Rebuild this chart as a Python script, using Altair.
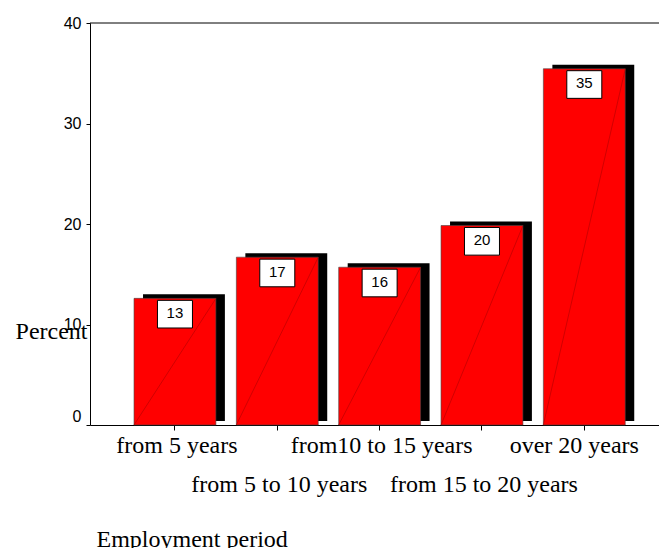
import json
import altair as alt
import pandas as pd

# ---- data ----
categories = ["from 5 years", "from 5 to 10 years", "from10 to 15 years",
              "from 15 to 20 years", "over 20 years"]
percent = [12.6, 16.7, 15.7, 19.85, 35.45]
labels = ["13", "17", "16", "20", "35"]
y_ticks = [0, 10, 20, 30, 40]
y_max = [40]

df = pd.DataFrame({"period": categories, "percent": percent, "label": labels,
                   "zero": [0] * len(categories)})
top_df = pd.DataFrame({"top": y_max})

W, H = 569, 402

x_scale = alt.Scale(domain=categories, paddingInner=0.2, paddingOuter=0.38, align=0.566)
y_scale = alt.Scale(domain=[0, 40], nice=False)

cat_list = json.dumps(categories)
x_axis = alt.Axis(
    title="Employment period", titleFont="Liberation Serif", titleFontSize=24,
    titleFontWeight="normal", titleColor="black", titleAlign="left",
    titleAnchor="start", titleBaseline="alphabetic", titleX=6, titleY=121,
    labelFont="Liberation Serif", labelFontSize=24, labelColor="black",
    labelAngle=0, labelBaseline="top", labelPadding=3, labelLineHeight=39,
    labelOverlap=False, labelLimit=0,
    labelExpr=f"indexof({cat_list}, datum.value) % 2 == 1 ? ['', datum.label] : datum.label",
    labelOffset={"condition": {"test": f"indexof({cat_list}, datum.value) == 4", "value": -10}, "value": 2},
    tickSize=5, tickColor="black", domainColor="black", grid=False,
)
y_axis = alt.Axis(
    title="Percent", titleAngle=0, titleAlign="right", titleBaseline="alphabetic",
    titleX=-3, titleY=315, titleFont="Liberation Serif", titleFontSize=24,
    titleFontWeight="normal", titleColor="black",
    values=y_ticks, labelFont="Liberation Sans", labelFontSize=16, labelColor="black",
    labelPadding=5, tickSize=4, tickColor="black", domainColor="black", grid=False,
    labelOffset={"condition": {"test": "datum.value == 0", "value": -9}, "value": 0},
)

X = alt.X("period:N", sort=categories, scale=x_scale, axis=x_axis)
Y = alt.Y("percent:Q", scale=y_scale, axis=y_axis)

base = alt.Chart(df)

shadow = base.mark_bar(color="black", xOffset=9, yOffset=-4).encode(x=X, y=Y)
bars = base.mark_bar(color="#ff0000", stroke="#444444", strokeWidth=0.6).encode(x=X, y=Y)
diag = base.mark_rule(color="#b00000", strokeWidth=0.6, xOffset=-41, x2Offset=41).encode(
    x=X, x2=alt.X2("period"),
    y=alt.Y("zero:Q", scale=y_scale, axis=y_axis), y2=alt.Y2("percent"))
top_line = alt.Chart(top_df).mark_rule(color="black", strokeWidth=1).encode(
    y=alt.Y("top:Q", scale=y_scale, axis=y_axis), x=alt.value(0), x2=alt.value(W))
boxes = base.mark_point(
    shape="M-1,-0.79L1,-0.79L1,0.79L-1,0.79Z", size=1225, filled=True,
    fill="white", stroke="black", strokeWidth=1, opacity=1, yOffset=15.8,
).encode(x=X, y=Y)
texts = base.mark_text(font="Liberation Sans", fontSize=15, baseline="middle",
                       yOffset=14.5, color="black").encode(x=X, y=Y, text="label:N")

chart = alt.layer(shadow, bars, diag, top_line, boxes, texts).properties(
    width=W, height=H,
    autosize=alt.AutoSizeParams(type="none"),
    padding={"left": 82, "top": 15, "right": 0, "bottom": 123},
).configure_view(stroke=None)

chart.save("out.html", embed_options={"renderer": "svg", "actions": False})
